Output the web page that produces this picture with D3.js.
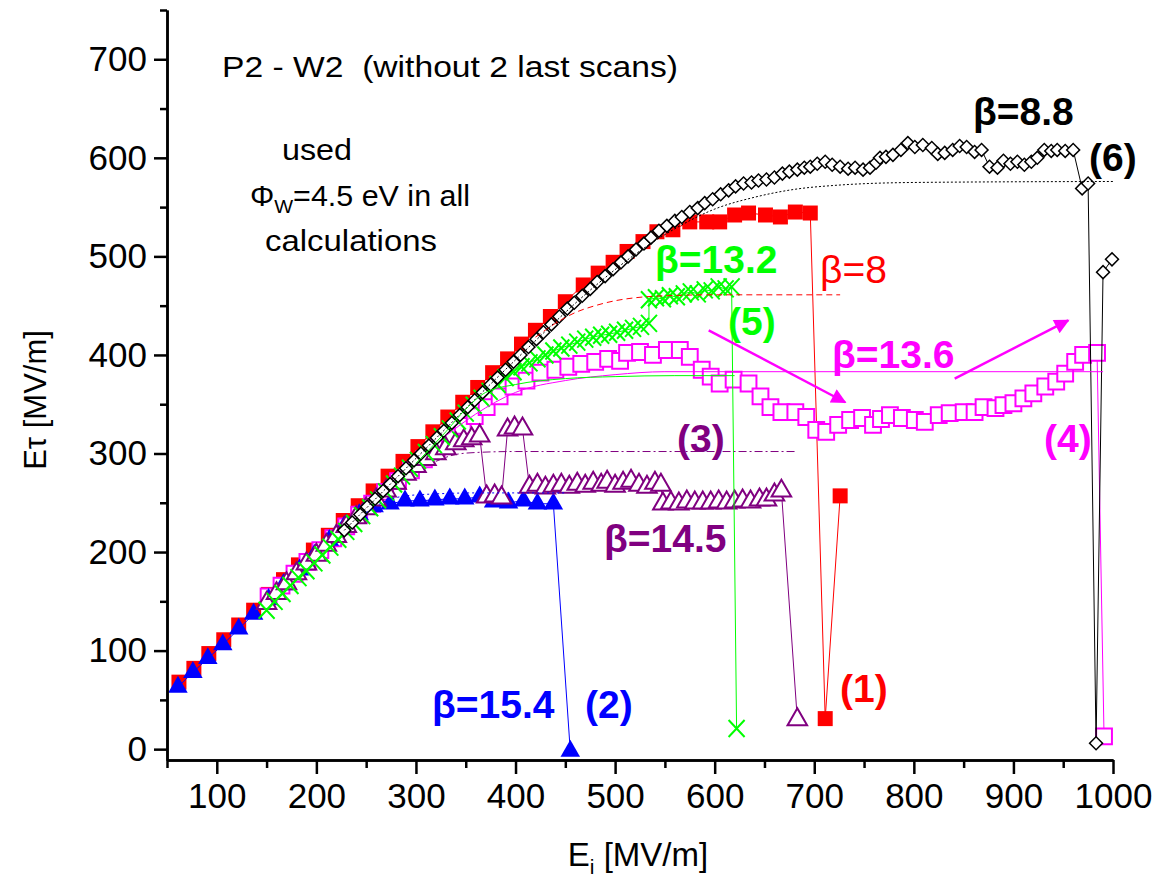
<!DOCTYPE html>
<html>
<head>
<meta charset="utf-8">
<script src="https://cdn.jsdelivr.net/npm/d3@7"></script>
<style>
  body { margin: 0; background: #fff; }
  text { font-family: "Liberation Sans", Arial, sans-serif; white-space: pre; }
</style>
</head>
<body>
<script>
// ---- data ----
// (1) beta=8, red filled squares
const scan1 = [[62,68],[77,82],[92,97],[107,111],[122,126],[137,141],[152,157],[167,172],[182,187],[197,202],[212,217],[227,232],[242,247],[257,262],[272,277],[287,292],[302,307],[317,322],[332,337],[347,352],[362,367],[377,382],[392,396],[406,411],[420,425],[435,439],[450,454],[468,471],[483,483],[498,494],[512,505],[528,515],[542,525],[558,527],[575,535],[592,535],[605,535],[620,542],[634,544],[651,542],[666,540],[681,545],[696,544],[711,31],[726,257]];
// (2) beta=15.4, blue filled triangles
const scan2 = [[61,63],[76,78],[91,92],[106,106],[122,122],[137,137],[152,152],[167,167],[183,182],[198,197],[213,212],[228,226],[243,238],[258,246],[274,249],[289,252],[304,252],[319,253],[334,254],[349,254],[364,256],[378,251],[393,250],[408,252],[422,249],[438,249],[455,-2]];
// (3) beta=14.5, purple open triangles
const scan3 = [[150,148],[160,158],[170,168],[180,178],[190,188],[200,197],[210,207],[220,216],[230,226],[240,235],[250,244],[260,253],[270,262],[280,270],[290,279],[300,287],[310,294],[320,300],[330,305],[340,310],[348,313],[356,315],[364,318],[371,256],[379,257],[386,255],[392,324],[399,326],[407,325],[414,266],[422,268],[430,265],[438,267],[446,268],[454,266],[462,269],[470,267],[478,270],[486,268],[492,271],[500,267],[508,270],[516,272],[524,268],[532,266],[540,270],[546,268],[548,249],[556,250],[564,249],[572,251],[580,250],[588,250],[596,250],[604,251],[612,250],[620,251],[628,252],[636,251],[645,253],[652,253],[660,258],[667,262],[683,30]];
// (4) beta=13.6, magenta open squares
const scan4 = [[152,155],[165,166],[178,178],[191,190],[204,202],[217,214],[230,226],[243,238],[256,249],[269,261],[282,272],[295,283],[308,294],[321,306],[334,317],[347,328],[359,338],[371,347],[384,358],[398,368],[411,374],[425,382],[440,385],[453,388],[466,391],[480,393],[493,396],[505,394],[512,402],[525,403],[538,400],[552,405],[565,405],[575,398],[587,385],[596,378],[605,371],[619,375],[634,371],[646,358],[656,347],[667,342],[681,342],[692,337],[702,324],[712,322],[724,329],[736,334],[748,336],[759,329],[767,335],[776,339],[788,336],[801,334],[811,332],[825,339],[836,341],[850,342],[861,342],[870,347],[882,346],[890,349],[900,351],[910,356],[920,361],[932,368],[943,373],[952,381],[962,393],[970,400],[984,402],[991,13]];
// (5) beta=13.2, green crosses
const scan5 = [[150,141],[158,150],[166,158],[174,166],[182,174],[190,181],[198,189],[206,197],[214,205],[222,213],[230,221],[238,229],[246,237],[254,245],[262,253],[270,261],[278,269],[286,277],[294,285],[302,293],[310,301],[318,309],[326,317],[334,325],[342,333],[350,341],[358,349],[366,356],[374,363],[382,370],[390,377],[398,383],[406,388],[414,392],[422,396],[430,400],[438,404],[446,407],[454,410],[462,413],[470,416],[478,418],[486,420],[494,421],[502,423],[510,425],[518,427],[526,429],[534,432],[534,456],[541,458],[548,457],[555,460],[562,459],[569,462],[576,464],[583,462],[590,466],[597,465],[604,469],[611,467],[617,469],[622,21]];
// (6) beta=8.8, black open diamonds
const scan6 = [[228,222],[236,230],[244,238],[251,246],[259,254],[267,262],[274,269],[282,277],[290,285],[298,293],[305,300],[313,308],[321,316],[328,323],[336,331],[344,339],[352,347],[359,354],[367,362],[375,370],[382,377],[390,385],[398,393],[405,400],[413,408],[421,416],[428,423],[436,431],[444,439],[452,447],[459,453],[467,460],[475,467],[482,474],[490,480],[498,487],[506,494],[513,500],[521,507],[529,513],[536,519],[544,526],[552,531],[560,536],[567,540],[575,545],[583,549],[590,554],[598,558],[606,563],[614,567],[621,571],[629,574],[637,575],[644,577],[652,578],[660,580],[668,584],[675,586],[683,588],[690,590],[696,591],[703,594],[711,596],[718,593],[726,591],[734,589],[741,590],[749,588],[756,590],[762,595],[766,600],[772,601],[779,603],[787,608],[794,615],[801,611],[809,613],[818,610],[824,604],[831,605],[839,608],[846,612],[853,611],[861,606],[868,608],[876,591],[884,590],[890,597],[897,594],[904,596],[911,593],[918,596],[924,600],[931,608],[938,607],[944,608],[952,607],[960,608],[969,569],[975,574],[983,6],[990,484],[999,497]];

// fitted curves
const fit1 = [[420,418],[440,432],[460,443],[480,450],[500,455],[520,458],[550,460],[600,461],[726,461]];
const fit2 = [[250,240],[270,252],[290,257],[320,259],[360,260],[450,260]];
const fit3 = [[320,292],[340,299],[360,301],[400,302],[681,302]];
const fit4 = [[330,318],[360,340],[400,362],[450,374],[500,380],[550,383],[990,383]];
const fit5 = [[300,290],[330,322],[350,345],[370,362],[400,370],[450,376],[500,378],[560,379],[620,379]];
const fit6 = [[228,222],[300,295],[400,395],[480,470],[520,502],[560,528],[600,548],[640,560],[680,568],[720,572],[800,575],[1000,576]];

const xTicks = [100,200,300,400,500,600,700,800,900,1000];
const yTicks = [0,100,200,300,400,500,600,700];

// ---- drawing ----
const W = 1163, H = 882;
const svg = d3.select("body").append("svg")
    .attr("width", W)
    .attr("height", H);
svg.append("rect").attr("width", W).attr("height", H).attr("fill", "#fff");

const x = d3.scaleLinear().domain([50, 1000]).range([167, 1113]);
const y = d3.scaleLinear().domain([-11, 750]).range([760, 10]);

const line = d3.line().x(d => x(d[0])).y(d => y(d[1]));

// series, drawn bottom to top
const series = [
    {data: scan1, color: "#ff0000", mark: "square"},
    {data: scan4, color: "#ff00ff", mark: "osquare"},
    {data: scan2, color: "#0000ff", mark: "triangle"},
    {data: scan3, color: "#800080", mark: "otriangle"},
    {data: scan5, color: "#00ff00", mark: "cross"},
    {data: scan6, color: "#000000", mark: "diamond"}
];

const sq = d3.symbol().type(d3.symbolSquare).size(225)();
const osq = d3.symbol().type(d3.symbolSquare).size(250)();
const tri = d3.symbol().type(d3.symbolTriangle).size(165)();
const dia = d3.symbol().type(d3.symbolSquare).size(84)();
const crs = "M-8,-8.5L8,8.5M-8,8.5L8,-8.5";

series.forEach(s => {
    svg.append("path")
        .datum(s.data)
        .attr("fill", "none")
        .attr("stroke", s.color)
        .attr("stroke-width", 1)
        .attr("d", line);

    let pts = svg.append("g").selectAll("path")
        .data(s.data)
        .enter()
            .append("path")
            .attr("transform", d => `translate(${x(d[0])},${y(d[1])})` + (s.mark == "diamond" ? " rotate(45)" : ""));
    if (s.mark == "square") {
        pts.attr("d", sq).attr("fill", s.color);
    } else if (s.mark == "osquare") {
        pts.attr("d", osq).attr("fill", "#fff").attr("stroke", s.color).attr("stroke-width", 2);
    } else if (s.mark == "triangle") {
        pts.attr("d", tri).attr("fill", s.color);
    } else if (s.mark == "otriangle") {
        pts.attr("d", tri).attr("fill", "#fff").attr("stroke", s.color).attr("stroke-width", 2);
    } else if (s.mark == "cross") {
        pts.attr("d", crs).attr("fill", "none").attr("stroke", s.color).attr("stroke-width", 2);
    } else {
        pts.attr("d", dia).attr("fill", "#fff").attr("stroke", s.color).attr("stroke-width", 1.5);
    }
});

// fit curves
const curve = d3.line().curve(d3.curveMonotoneX).x(d => x(d[0])).y(d => y(d[1]));
const fits = [
    {data: fit1, color: "#ff0000", dash: "6,4"},
    {data: fit2, color: "#0000ff", dash: "2,3"},
    {data: fit3, color: "#800080", dash: "8,3,2,3"},
    {data: fit4, color: "#ff00ff", dash: null},
    {data: fit5, color: "#00ff00", dash: null},
    {data: fit6, color: "#000000", dash: "2,2"}
];
fits.forEach(f => {
    svg.append("path")
        .datum(f.data)
        .attr("fill", "none")
        .attr("stroke", f.color)
        .attr("stroke-width", 1)
        .attr("stroke-dasharray", f.dash)
        .attr("d", curve);
});

// arrows
svg.append("defs").append("marker")
    .attr("id", "head")
    .attr("viewBox", "0 0 10 10")
    .attr("refX", 9).attr("refY", 5)
    .attr("markerWidth", 8).attr("markerHeight", 6)
    .attr("markerUnits", "strokeWidth")
    .attr("orient", "auto")
    .append("path").attr("d", "M0,0L10,5L0,10z").attr("fill", "#ff00ff");
const arrows = [[[594,425],[731,352]], [[841,376],[955,435]]];
arrows.forEach(a => {
    svg.append("line")
        .attr("x1", x(a[0][0])).attr("y1", y(a[0][1]))
        .attr("x2", x(a[1][0])).attr("y2", y(a[1][1]))
        .attr("stroke", "#ff00ff").attr("stroke-width", 2.5)
        .attr("marker-end", "url(#head)");
});

// axes
const yAxis = d3.axisLeft(y).tickValues(yTicks).tickSize(13).tickSizeOuter(0).tickPadding(7);
const yMinor = d3.axisLeft(y).tickValues([50,150,250,350,450,550,650,750]).tickSize(7).tickSizeOuter(0).tickFormat("");
const xAxis = d3.axisBottom(x).tickValues(xTicks).tickSize(14).tickSizeOuter(0).tickPadding(9).tickFormat(d3.format("d"));
const xMinor = d3.axisBottom(x).tickValues([50,150,250,350,450,550,650,750,850,950]).tickSize(8).tickSizeOuter(0).tickFormat("");

[["translate(167,0)", yMinor], ["translate(167,0)", yAxis], ["translate(0,760)", xMinor], ["translate(0,760)", xAxis]].forEach(p => {
    let g = svg.append("g").attr("transform", p[0]).call(p[1]);
    g.selectAll("path, line").attr("stroke", "#000").attr("stroke-width", 2.5);
    g.selectAll("text").attr("font-size", 35).attr("fill", "#000")
        .style("font-family", "'Liberation Sans', Arial, sans-serif");
});

// axis titles
svg.append("text")
    .attr("transform", "translate(46,400) rotate(-90)")
    .attr("text-anchor", "middle")
    .attr("font-size", 31)
    .text("Eτ [MV/m]");
let xt = svg.append("text")
    .attr("x", 638).attr("y", 866)
    .attr("text-anchor", "middle")
    .attr("font-size", 33);
xt.append("tspan").text("E");
xt.append("tspan").attr("font-size", 21).attr("dy", 8).text("i");
xt.append("tspan").attr("dy", -8).text(" [MV/m]");

// notes (the original lettering is a little wide, so it is stretched to its width)
svg.append("text").attr("x", 222).attr("y", 77).attr("font-size", 29)
    .attr("textLength", 456).attr("lengthAdjust", "spacingAndGlyphs")
    .text("P2 - W2  (without 2 last scans)");
svg.append("text").attr("x", 282).attr("y", 160).attr("font-size", 29)
    .attr("textLength", 70).attr("lengthAdjust", "spacingAndGlyphs").text("used");
let phi = svg.append("text").attr("x", 250).attr("y", 206).attr("font-size", 29)
    .attr("textLength", 220).attr("lengthAdjust", "spacingAndGlyphs");
phi.append("tspan").text("Φ");
phi.append("tspan").attr("font-size", 19).attr("dy", 7).text("W");
phi.append("tspan").attr("dy", -7).text("=4.5 eV in all");
svg.append("text").attr("x", 265).attr("y", 251).attr("font-size", 29)
    .attr("textLength", 172).attr("lengthAdjust", "spacingAndGlyphs").text("calculations");

// series labels
const labels = [
    ["β=8.8", 973, 125, "#000", "bold"],
    ["(6)", 1089, 171, "#000", "bold"],
    ["β=13.2", 655, 273, "#00ff00", "bold"],
    ["β=8", 820, 283, "#ff0000", "normal"],
    ["(5)", 728, 335, "#00ff00", "bold"],
    ["β=13.6", 832, 368, "#ff00ff", "bold"],
    ["(4)", 1044, 452, "#ff00ff", "bold"],
    ["(3)", 677, 452, "#800080", "bold"],
    ["β=14.5", 604, 552, "#800080", "bold"],
    ["β=15.4", 432, 718, "#0000ff", "bold"],
    ["(2)", 585, 718, "#0000ff", "bold"],
    ["(1)", 840, 702, "#ff0000", "bold"]
];
svg.selectAll("text.lab")
    .data(labels)
    .enter()
        .append("text")
        .attr("class", "lab")
        .attr("x", d => d[1])
        .attr("y", d => d[2])
        .attr("fill", d => d[3])
        .attr("font-weight", d => d[4])
        .attr("font-size", 39)
        .text(d => d[0]);
</script>
</body>
</html>
